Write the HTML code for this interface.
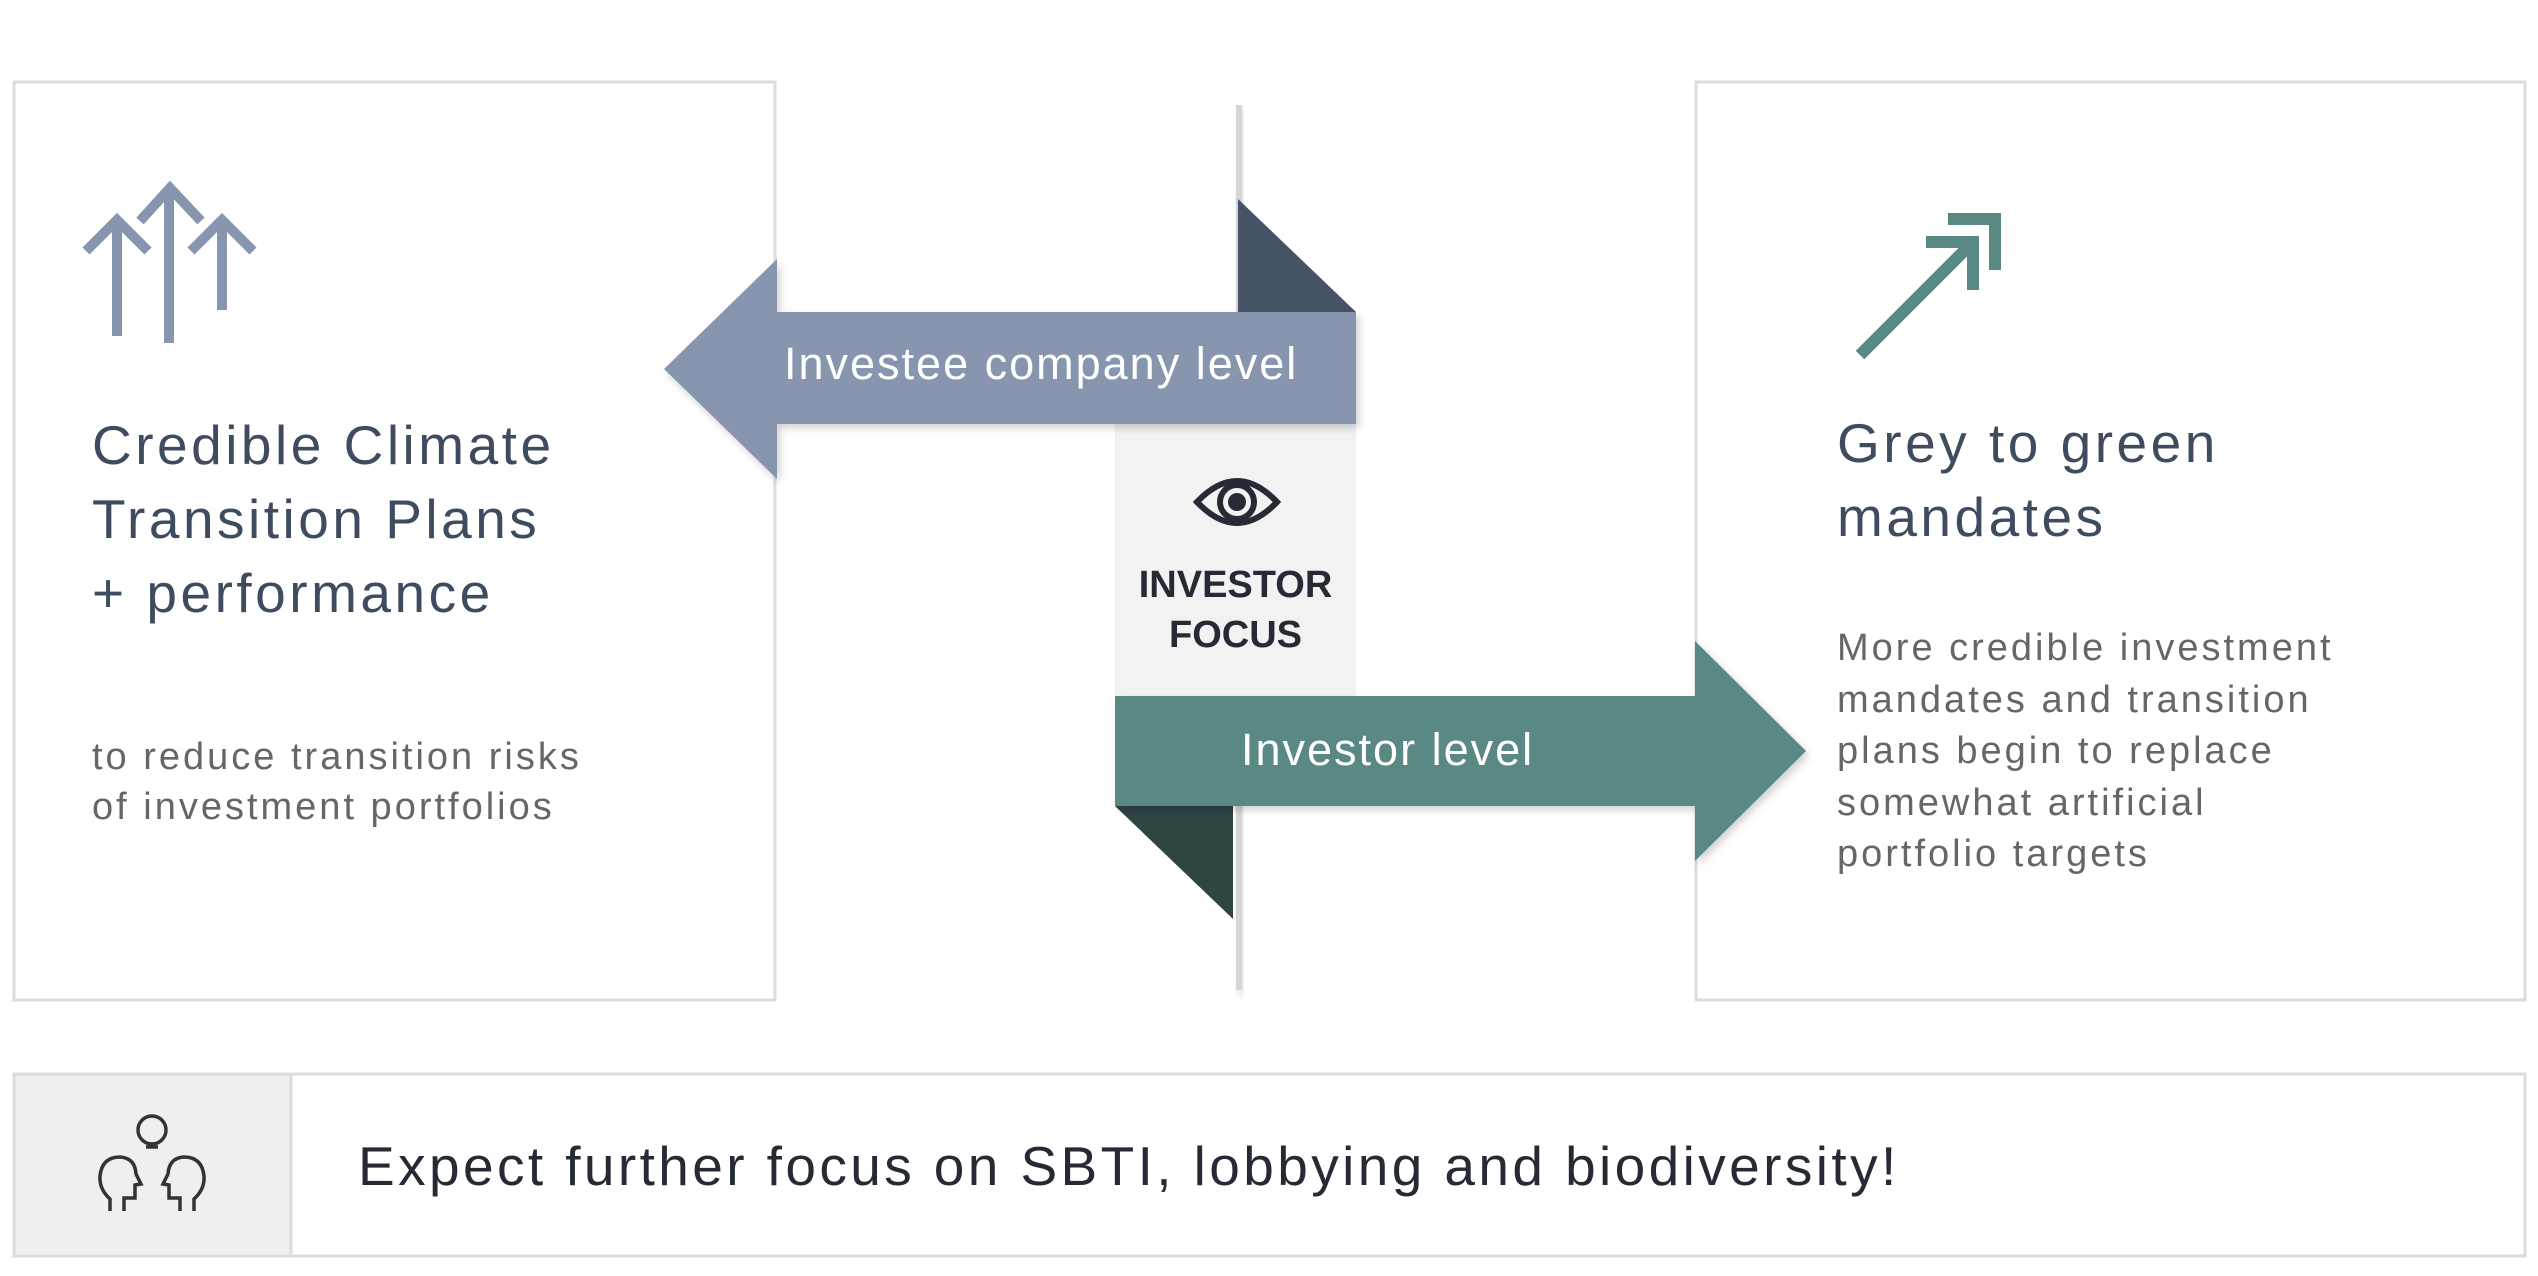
<!DOCTYPE html>
<html><head><meta charset="utf-8"><style>
html,body{margin:0;padding:0;background:#fff;}
body{width:2538px;height:1276px;position:relative;overflow:hidden;font-family:"Liberation Sans",sans-serif;}
.t{position:absolute;white-space:nowrap;}
</style></head><body>
<svg width="2538" height="1276" style="position:absolute;left:0;top:0">
<defs>
<filter id="sh" x="-10%" y="-10%" width="130%" height="130%"><feDropShadow dx="3" dy="4" stdDeviation="4" flood-color="#000" flood-opacity="0.18"/></filter>
</defs>
<rect x="14" y="82" width="761" height="918" fill="#fff" stroke="#dcdcdc" stroke-width="3"/>
<rect x="1696" y="82" width="829" height="918" fill="#fff" stroke="#dcdcdc" stroke-width="3"/>
<rect x="1236" y="105" width="6" height="885" fill="#d6d6d6" filter="url(#sh)"/>
<rect x="1115" y="424" width="241" height="272" fill="#f2f2f2"/>
<polygon points="1238,199 1356,312 1238,312" fill="#465366"/>
<polygon points="1115,806 1233,806 1233,919" fill="#2f4544"/>
<polygon points="664,369 777,259 777,312 1356,312 1356,424 777,424 777,479" fill="#8795ae" filter="url(#sh)"/>
<polygon points="1115,696 1695,696 1695,641 1806,751 1695,861 1695,806 1115,806" fill="#5a8882" filter="url(#sh)"/>
<rect x="14" y="1074" width="2511" height="182" fill="#fff" stroke="#dcdcdc" stroke-width="3"/>
<rect x="15.5" y="1075.5" width="275" height="179" fill="#efefef"/>
<line x1="291" y1="1074" x2="291" y2="1256" stroke="#dcdcdc" stroke-width="3"/>
<g stroke="#8795ae" stroke-width="10" fill="none">
<line x1="117" y1="220" x2="117" y2="336"/>
<line x1="169" y1="188" x2="169" y2="343"/>
<line x1="222" y1="220" x2="222" y2="310"/>
<polyline points="86,251 117,220 148,251"/>
<polyline points="140,221 170,188 201,221"/>
<polyline points="191,251 222,220 253,251"/>
</g>
<line x1="1860" y1="355" x2="1972" y2="243" stroke="#5a8882" stroke-width="12"/>
<polyline points="1926,242 1973,242 1973,290" stroke="#5a8882" stroke-width="12" fill="none"/>
<polyline points="1948,219 1995,219 1995,270" stroke="#5a8882" stroke-width="12" fill="none"/>
<g transform="translate(1237,502)" fill="none" stroke="#252a35" stroke-width="6">
<path d="M-40,0 Q0,-42 40,0 Q0,42 -40,0 Z"/>
<circle r="17"/>
</g>
<circle cx="1237" cy="502" r="9" fill="#252a35"/>
<g fill="none" stroke="#333" stroke-width="3.5">
<circle cx="152" cy="1130" r="14"/>
<line x1="146" y1="1147" x2="158" y2="1147"/>
<path d="M110,1211 L110,1199 Q99,1189 100,1176 Q102,1157 120,1157 Q135,1158 136,1174 L141,1184 L135,1185 L135,1198 L124,1198 L124,1211"/>
<path d="M194,1211 L194,1199 Q205,1189 204,1176 Q202,1157 184,1157 Q169,1158 168,1174 L163,1184 L169,1185 L169,1198 L180,1198 L180,1211"/>
</g>
</svg>
<div class="t" style="left:784px;top:338px;font-size:45px;color:#fff;letter-spacing:2px;">Investee company level</div>
<div class="t" style="left:1241px;top:724px;font-size:45px;color:#fff;letter-spacing:2px;">Investor level</div>
<div class="t" style="left:1115px;width:241px;text-align:center;top:560px;font-size:38px;font-weight:bold;color:#252a35;line-height:50px;white-space:normal;">INVESTOR<br>FOCUS</div>
<div class="t" style="left:92px;top:408px;font-size:55px;color:#3f4c5f;line-height:74px;letter-spacing:3.5px;">Credible Climate<br>Transition Plans<br>+ performance</div>
<div class="t" style="left:92px;top:732px;font-size:38px;color:#666;line-height:50px;letter-spacing:3px;">to reduce transition risks<br>of investment portfolios</div>
<div class="t" style="left:1837px;top:406px;font-size:55px;color:#3f4c5f;line-height:74px;letter-spacing:3.5px;">Grey to green<br>mandates</div>
<div class="t" style="left:1837px;top:623px;font-size:38px;color:#666;line-height:51.5px;letter-spacing:3px;">More credible investment<br>mandates and transition<br>plans begin to replace<br>somewhat artificial<br>portfolio targets</div>
<div class="t" style="left:358px;top:1134px;font-size:55px;color:#252a35;letter-spacing:3.4px;">Expect further focus on SBTI, lobbying and biodiversity!</div>
</body></html>
